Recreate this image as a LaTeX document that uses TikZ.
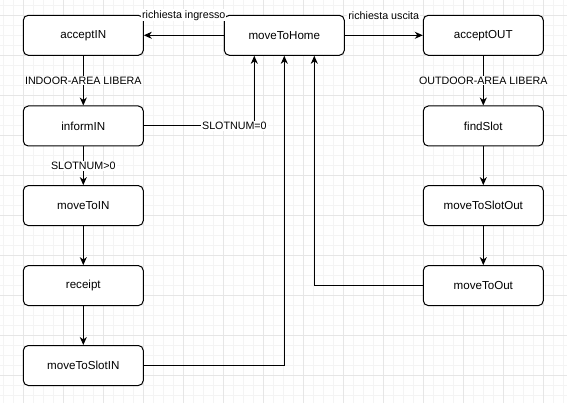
\documentclass[tikz,border=0pt]{standalone}
\usepackage{fontspec}
\setmainfont{Liberation Sans}
\usetikzlibrary{arrows.meta}
\definecolor{gridminor}{HTML}{F4F4F4}
\definecolor{gridmajor}{HTML}{E6E6E6}
\tikzset{
  state/.style={draw, rounded corners=5pt, minimum width=120pt, minimum height=40pt,
    line width=1pt, font=\fontsize{11.6}{13}\selectfont, inner sep=0pt, fill=white},
  conn/.style={draw, line width=1pt, -{Stealth[length=8pt,width=7pt,inset=2.5pt]}},
  lbl/.style={font=\fontsize{10.7}{12}\selectfont, fill=white, inner sep=1pt},
  minorline/.style={draw=gridminor, line width=0.7pt},
  majorline/.style={draw=gridmajor, line width=0.7pt},
}
\begin{document}
\begin{tikzpicture}[x=1pt,y=-1pt]
\useasboundingbox (0,0) rectangle (567,403);
\fill[white] (0,0) rectangle (567,403);
% grid
\foreach \i in {0,...,56} \draw[minorline] (3.3+10*\i,0) -- (3.3+10*\i,403);
\foreach \i in {0,...,40} \draw[minorline] (0,5+10*\i) -- (567,5+10*\i);
\foreach \i in {0,...,14} \draw[majorline] (23.3+40*\i,0) -- (23.3+40*\i,403);
\foreach \i in {0,...,9} \draw[majorline] (0,15+40*\i) -- (567,15+40*\i);
% nodes
\node[state] (acceptIN) at (83.3,35.3) {acceptIN};
\node[state] (home) at (284.3,35.3) {moveToHome};
\node[state] (acceptOUT) at (483.3,35.3) {acceptOUT};
\node[state] (informIN) at (83.3,126) {informIN};
\node[state] (findSlot) at (483.3,126) {findSlot};
\node[state] (moveToIN) at (83.3,205.6) {moveToIN};
\node[state] (slotOut) at (483.3,205.6) {moveToSlotOut};
\node[state] (receipt) at (83.3,285.6) {receipt};
\node[state] (moveToOut) at (483.3,285.6) {moveToOut};
\node[state] (slotIN) at (83.3,365.5) {moveToSlotIN};
% connectors
\draw[conn] (home.west) -- node[lbl, yshift=20pt] {richiesta ingresso} (acceptIN.east);
\draw[conn] (home.east) -- node[lbl, yshift=20pt] {richiesta uscita} (acceptOUT.west);
\draw[conn] (acceptIN.south) -- node[lbl] {INDOOR-AREA LIBERA} (informIN.north);
\draw[conn] (acceptOUT.south) -- node[lbl] {OUTDOOR-AREA LIBERA} (findSlot.north);
\draw[conn] (informIN.south) -- node[lbl] {SLOTNUM>0} (moveToIN.north);
\draw[conn] (moveToIN.south) -- (receipt.north);
\draw[conn] (receipt.south) -- (slotIN.north);
\draw[conn] (findSlot.south) -- (slotOut.north);
\draw[conn] (slotOut.south) -- (moveToOut.north);
\draw[conn] (informIN.east) -| node[lbl, pos=0.41] {SLOTNUM=0} ([xshift=-30pt]home.south);
\draw[conn] (slotIN.east) -| (home.south);
\draw[conn] (moveToOut.west) -| ([xshift=30pt]home.south);
\end{tikzpicture}
\end{document}
